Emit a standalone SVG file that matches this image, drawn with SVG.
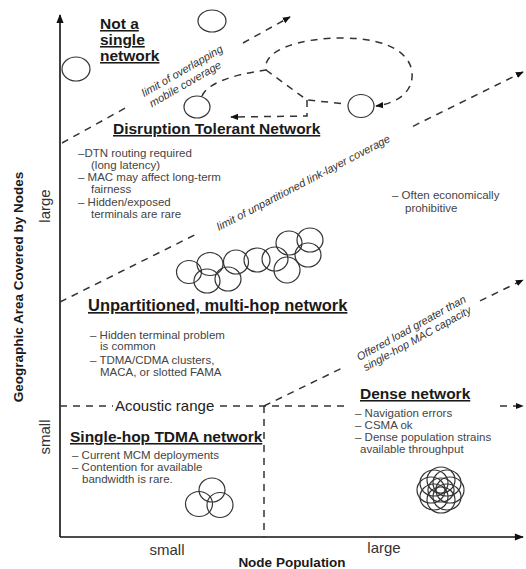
<svg xmlns="http://www.w3.org/2000/svg" width="526" height="569" viewBox="0 0 526 569">
<style>
text{font-family:"Liberation Sans",Arial,sans-serif}
.h{font-weight:bold;font-size:15.5px;fill:#1a1a1a;text-decoration:underline}
.b{font-size:11.5px;fill:#444}
.it{font-style:italic;font-size:11px;fill:#333}
.ax{font-size:15px;fill:#333}
.at{font-weight:bold;font-size:13.5px;fill:#1a1a1a}
.d{fill:none;stroke:#333;stroke-width:1.5;stroke-dasharray:7 6}
.c{fill:none;stroke:#333;stroke-width:1.2}
.axis{fill:none;stroke:#111;stroke-width:1.6}
</style>
<defs>
<marker id="ah" viewBox="0 0 10 10" refX="9" refY="5" markerWidth="8" markerHeight="8" orient="auto" markerUnits="userSpaceOnUse"><path d="M0,1 L10,5 L0,9 z" fill="#111"/></marker>
<marker id="axh" viewBox="0 0 10 10" refX="9" refY="5" markerWidth="10" markerHeight="9" orient="auto" markerUnits="userSpaceOnUse"><path d="M0,1 L10,5 L0,9 z" fill="#111"/></marker>
</defs>
<rect width="526" height="569" fill="#fff"/>
<g id="axes">
<line class="axis" x1="60" y1="537" x2="60" y2="15" marker-end="url(#axh)"/>
<line class="axis" x1="60" y1="537" x2="523" y2="537" marker-end="url(#axh)"/>
<text class="at" transform="translate(23,287) rotate(-90)" text-anchor="middle">Geographic Area Covered by Nodes</text>
<text class="at" x="292" y="567" text-anchor="middle">Node Population</text>
<text class="ax" transform="translate(50,206) rotate(-90)" text-anchor="middle">large</text>
<text class="ax" transform="translate(50,437) rotate(-90)" text-anchor="middle">small</text>
<text class="ax" x="167" y="555" text-anchor="middle">small</text>
<text class="ax" x="384" y="553" text-anchor="middle">large</text>
</g>
<g id="connectors">
<path class="d" d="M62,143 L130,105.4"/>
<path class="d" d="M243,43 L290,17" marker-end="url(#ah)"/>
<path class="d" d="M60,302 L195,234.8"/>
<path class="d" d="M413,126.3 L523,72" marker-end="url(#ah)"/>
<path class="d" d="M264,406 L345,366.6"/>
<path class="d" d="M480,300.9 L523,280" marker-end="url(#ah)"/>
<path class="d" d="M60,406 L113,406"/>
<path class="d" d="M220,406 L345,406"/>
<path class="d" d="M500,406 L523,406" marker-end="url(#ah)"/>
<path class="d" d="M264,406 L264,537"/>
<path class="d" d="M202,96 Q210,78 266,70 C262,50 300,38 342,38 C392,38 414,56 412,78 C410,96 392,104 376,106" marker-end="url(#ah)"/>
<path class="d" d="M266,70 L307,100 L347,104"/>
<path class="d" d="M307,100 L307,116 L231,117" marker-end="url(#ah)"/>
</g>
<g id="line-labels">
<g transform="translate(184,74) rotate(-30)"><text class="it" text-anchor="middle" y="0">limit of overlapping</text><text class="it" text-anchor="middle" x="-4" y="13">mobile coverage</text></g>
<text class="it" transform="translate(305,186) rotate(-27.5)" text-anchor="middle">limit of unpartitioned link-layer coverage</text>
<g transform="translate(414,333) rotate(-29)"><text class="it" text-anchor="middle" y="-2">Offered load greater than</text><text class="it" text-anchor="middle" y="10">single-hop MAC capacity</text></g>
<text x="115" y="411" style="font-size:15px;fill:#222">Acoustic range</text>
</g>
<g id="not-single">
<text class="h" x="100" y="29">Not a</text>
<text class="h" x="100" y="45">single</text>
<text class="h" x="100" y="61">network</text>
<ellipse class="c" cx="212" cy="21" rx="14" ry="11"/>
<ellipse class="c" cx="76" cy="69" rx="14" ry="12"/>
<ellipse class="c" cx="197" cy="107" rx="13" ry="11"/>
<ellipse class="c" cx="361" cy="106" rx="13" ry="11.5"/>
</g>
<g id="dtn">
<text class="h" x="113" y="134">Disruption Tolerant Network</text>
<text class="b" x="78" y="157">–DTN routing required</text>
<text class="b" x="91" y="169">(long latency)</text>
<text class="b" x="78" y="181">– MAC may affect long-term</text>
<text class="b" x="91" y="193">fairness</text>
<text class="b" x="78" y="206">– Hidden/exposed</text>
<text class="b" x="91" y="218">terminals are rare</text>
</g>
<g id="often">
<text class="b" x="392" y="199">– Often economically</text>
<text class="b" x="405" y="212">prohibitive</text>
</g>
<g id="unpartitioned">
<ellipse class="c" cx="189" cy="272" rx="12.5" ry="11.5"/>
<ellipse class="c" cx="210" cy="264" rx="13" ry="11.5"/>
<ellipse class="c" cx="207" cy="281" rx="13" ry="12"/>
<ellipse class="c" cx="228" cy="279" rx="13" ry="12"/>
<ellipse class="c" cx="236" cy="262" rx="12.5" ry="12"/>
<ellipse class="c" cx="257" cy="260" rx="13" ry="12"/>
<ellipse class="c" cx="275" cy="259" rx="13" ry="12"/>
<ellipse class="c" cx="287" cy="270" rx="13" ry="13"/>
<ellipse class="c" cx="289" cy="243" rx="13" ry="12"/>
<ellipse class="c" cx="310" cy="240" rx="13" ry="12"/>
<ellipse class="c" cx="308" cy="255" rx="13" ry="12"/>
<text class="h" x="88" y="311" style="font-size:16.5px">Unpartitioned, multi-hop network</text>
<text class="b" x="90" y="339">– Hidden terminal problem</text>
<text class="b" x="100" y="350">is common</text>
<text class="b" x="90" y="364">– TDMA/CDMA clusters,</text>
<text class="b" x="100" y="376">MACA, or slotted FAMA</text>
</g>
<g id="single-hop">
<text class="h" x="70" y="442">Single-hop TDMA network</text>
<text class="b" x="72" y="459">– Current MCM deployments</text>
<text class="b" x="72" y="471">– Contention for available</text>
<text class="b" x="82" y="483">bandwidth is rare.</text>
<ellipse class="c" cx="212" cy="490" rx="13" ry="12"/>
<ellipse class="c" cx="199" cy="504" rx="13.5" ry="12.5"/>
<ellipse class="c" cx="220" cy="505" rx="13" ry="12.5"/>
</g>
<g id="dense">
<text class="h" x="360" y="399">Dense network</text>
<text class="b" x="355" y="417">– Navigation errors</text>
<text class="b" x="355" y="429">– CSMA ok</text>
<text class="b" x="355" y="441">– Dense population strains</text>
<text class="b" x="360" y="453">available throughput</text>
<ellipse class="c" cx="450" cy="490" rx="14" ry="13"/>
<ellipse class="c" cx="447" cy="483" rx="14" ry="13"/>
<ellipse class="c" cx="441" cy="480" rx="14" ry="13"/>
<ellipse class="c" cx="434" cy="483" rx="14" ry="13"/>
<ellipse class="c" cx="431" cy="490" rx="14" ry="13"/>
<ellipse class="c" cx="434" cy="497" rx="14" ry="13"/>
<ellipse class="c" cx="441" cy="500" rx="14" ry="13"/>
<ellipse class="c" cx="447" cy="497" rx="14" ry="13"/>
<ellipse class="c" cx="441" cy="490" rx="13" ry="12"/>
</g>
</svg>
